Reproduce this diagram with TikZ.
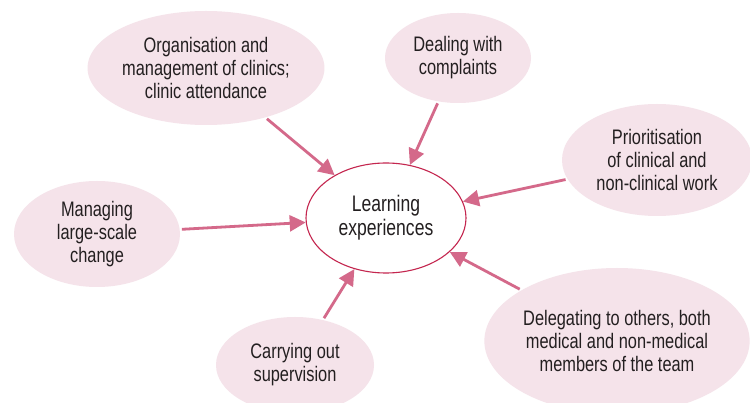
\documentclass[tikz,border=0pt]{standalone}
\usepackage{fontspec}
\setmainfont{Liberation Sans}[FakeStretch=0.78]
\usetikzlibrary{shapes.geometric,arrows.meta}
\definecolor{bubble}{HTML}{F5E3EA}
\definecolor{arrowpink}{HTML}{D4698A}
\definecolor{rim}{HTML}{C4264F}
\definecolor{ink}{HTML}{231F20}
\tikzset{
  bubble/.style={ellipse, fill=bubble, inner sep=0pt, align=center,
    text=ink, font=\fontsize{21}{23}\selectfont},
  hub/.style={ellipse, draw=rim, line width=1.1pt, fill=white, inner sep=0pt,
    align=center, text=ink, font=\fontsize{22.5}{24}\selectfont},
  feed/.style={draw=arrowpink, line width=2.8pt,
    -{Triangle[length=16pt,width=16pt]}, shorten <=2pt}
}
\begin{document}
\begin{tikzpicture}[x=1pt,y=-1pt]
\useasboundingbox (0,0) rectangle (750,403);
\clip (0,0) rectangle (750,403);
\fill[white] (0,0) rectangle (750,403);

\node[hub, minimum width=160pt, minimum height=110pt] (hub) at (386,218)
  {Learning\\experiences};

\node[bubble, minimum width=208pt, minimum height=114pt] (org) at (206,68)
  {Organisation and\\management of clinics;\\clinic attendance};
\node[bubble, minimum width=146pt, minimum height=90pt] (deal) at (458,58)
  {Dealing with\\complaints};
\node[bubble, minimum width=190pt, minimum height=112pt] (prio) at (657,160)
  {Prioritisation\\of clinical and\\non-clinical work};
\node[bubble, minimum width=166pt, minimum height=106pt] (change) at (97,234)
  {Managing\\large-scale\\change};
\node[bubble, minimum width=158pt, minimum height=96pt] (sup) at (295,365)
  {Carrying out\\supervision};
\node[bubble, minimum width=258pt, minimum height=146pt] (deleg) at (617,341)
  {Delegating to others, both\\medical and non-medical\\members of the team};

\draw[feed] (org) -- (hub);
\draw[feed] (deal) -- (hub);
\draw[feed] (prio) -- (hub);
\draw[feed] (change) -- (hub);
\draw[feed] (sup) -- (hub);
\draw[feed] (deleg) -- (hub);
\end{tikzpicture}
\end{document}
